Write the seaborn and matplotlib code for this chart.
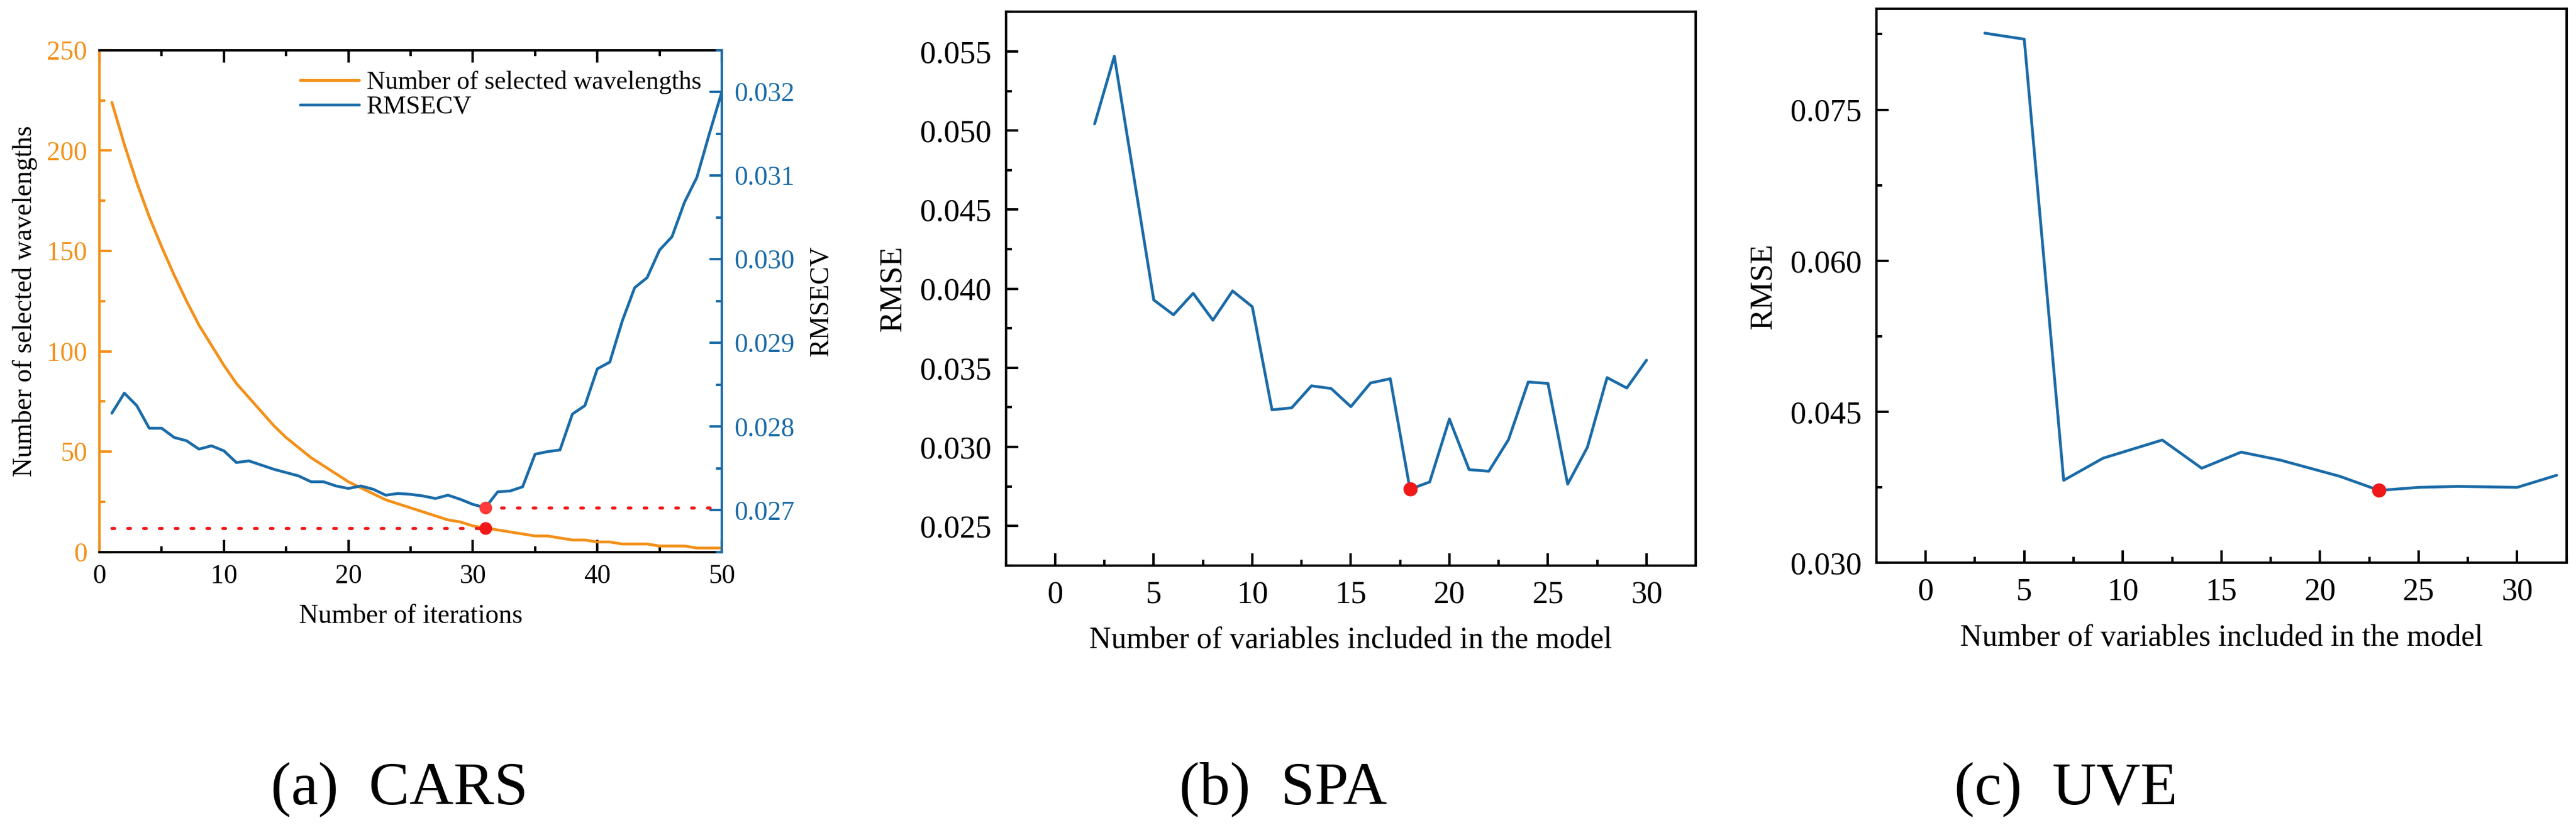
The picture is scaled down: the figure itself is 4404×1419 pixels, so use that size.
import numpy as np
import seaborn as sns
import matplotlib.pyplot as plt
from matplotlib.ticker import MultipleLocator, FormatStrFormatter

# ------------------------------
# Data
# ------------------------------

# (a) CARS
cars_iter = list(range(1, 51))
cars_nwave = [224, 203, 184, 167, 152, 138, 125, 113, 103, 93,
              84, 77, 70, 63, 57, 52, 47, 43, 39, 35,
              32, 29, 26, 24, 22, 20, 18, 16, 15, 13,
              12, 11, 10, 9, 8, 8, 7, 6, 6, 5,
              5, 4, 4, 4, 3, 3, 3, 2, 2, 2]
cars_rmsecv = [0.02816, 0.02840, 0.02825, 0.02798, 0.02798, 0.02787, 0.02783, 0.02773, 0.02777, 0.02771,
               0.02757, 0.02759, 0.02754, 0.02749, 0.02745, 0.02741, 0.02734, 0.02734, 0.02729, 0.02726,
               0.02729, 0.02725, 0.02718, 0.02720, 0.02719, 0.02717, 0.02714, 0.02718, 0.02713, 0.02707,
               0.02703, 0.02722, 0.02723, 0.02728, 0.02767, 0.02770, 0.02772, 0.02815, 0.02825, 0.02869,
               0.02877, 0.02926, 0.02966, 0.02978, 0.03011, 0.03027, 0.03068, 0.03098, 0.03150, 0.03200]

# (b) SPA
spa_nvar = list(range(2, 31))
spa_rmse = [0.05042, 0.05470, 0.04700, 0.03929, 0.03835, 0.03971, 0.03801, 0.03986, 0.03886,
            0.03234, 0.03247, 0.03386, 0.03369, 0.03254, 0.03404, 0.03431, 0.02732, 0.02778, 0.03176,
            0.02856, 0.02846, 0.03046, 0.03410, 0.03401, 0.02764, 0.02997, 0.03438, 0.03372, 0.03548]

# (c) UVE
uve_nvar = [3, 5, 7, 9, 12, 14, 16, 18, 21, 23, 25, 27, 30, 32]
uve_rmse = [0.0826, 0.0820, 0.0382, 0.0404, 0.0422, 0.0394, 0.0410, 0.0402,
            0.0386, 0.0372, 0.0375, 0.0376, 0.0375, 0.0387]

captions = ["(a)  CARS", "(b)  SPA", "(c)  UVE"]

ORANGE = "#F39019"
BLUE = "#1A6BA8"
RED = "#F01818"

sns.set_theme(style="ticks", rc={
    "axes.edgecolor": "black",
    "axes.linewidth": 1.0,
    "xtick.direction": "in",
    "ytick.direction": "in",
    "xtick.color": "black",
    "ytick.color": "black",
    "text.color": "black",
    "axes.labelcolor": "black",
})
plt.rcParams["font.family"] = ["Liberation Serif", "DejaVu Serif"]

fig = plt.figure(figsize=(14.68, 4.73), dpi=300)

# ------------------------------
# (a) CARS
# ------------------------------
ax_a = fig.add_axes([0.0386, 0.3349, 0.2416, 0.6047])
sns.lineplot(x=cars_iter, y=cars_nwave, ax=ax_a, color=ORANGE, lw=1.15,
             label="Number of selected wavelengths")
ax_a2 = ax_a.twinx()
sns.lineplot(x=cars_iter, y=cars_rmsecv, ax=ax_a2, color=BLUE, lw=1.15,
             label="RMSECV")

best = int(np.argmin(cars_rmsecv))
dots = dict(color=RED, lw=1.3, linestyle=(0, (0.8, 4.2)), dash_capstyle="round")
ax_a.plot([cars_iter[0], cars_iter[best]], [cars_nwave[best]] * 2, **dots)
ax_a2.plot([cars_iter[best], cars_iter[-1]], [cars_rmsecv[best]] * 2, **dots)
ax_a.plot(cars_iter[best], cars_nwave[best], "o", color=RED, ms=4.2, zorder=5)
ax_a2.plot(cars_iter[best], cars_rmsecv[best], "o", color="#FF3B3B", ms=4.2, zorder=5)

ax_a.set_xlim(0, 50)
ax_a.set_ylim(0, 250)
ax_a2.set_ylim(0.0265, 0.0325)
ax_a.xaxis.set_major_locator(MultipleLocator(10))
ax_a.xaxis.set_minor_locator(MultipleLocator(5))
ax_a.yaxis.set_major_locator(MultipleLocator(50))
ax_a.yaxis.set_minor_locator(MultipleLocator(25))
ax_a2.yaxis.set_major_locator(MultipleLocator(0.001))
ax_a2.yaxis.set_minor_locator(MultipleLocator(0.0005))
ax_a2.yaxis.set_major_formatter(FormatStrFormatter("%.3f"))

ax_a.tick_params(axis="x", which="both", top=True, labelsize=11, pad=5)
ax_a.tick_params(axis="x", which="major", length=5, width=1.0)
ax_a.tick_params(axis="x", which="minor", length=2.5, width=1.0)
ax_a.tick_params(axis="y", which="both", colors=ORANGE, labelsize=11, pad=5, width=1.0)
ax_a.tick_params(axis="y", which="major", length=5)
ax_a.tick_params(axis="y", which="minor", length=2.5)
ax_a2.tick_params(axis="y", which="both", colors=BLUE, labelsize=11, pad=5, width=1.0)
ax_a2.tick_params(axis="y", which="major", length=5)
ax_a2.tick_params(axis="y", which="minor", length=2.5)

ax_a.spines["left"].set_color(ORANGE)
ax_a.spines["right"].set_visible(False)
for s in ["left", "top", "bottom"]:
    ax_a2.spines[s].set_visible(False)
ax_a2.spines["right"].set_color(BLUE)

ax_a.set_xlabel("Number of iterations", fontsize=11, labelpad=6)
ax_a.set_ylabel("Number of selected wavelengths", fontsize=11, labelpad=4)
ax_a2.set_ylabel("RMSECV", fontsize=11, labelpad=6)

h1, l1 = ax_a.get_legend_handles_labels()
h2, l2 = ax_a2.get_legend_handles_labels()
ax_a.get_legend().remove()
ax_a2.legend(h1 + h2, l1 + l2, loc="upper right", frameon=False, fontsize=10.5,
             handlelength=2.3, handletextpad=0.3, labelspacing=0.05,
             borderaxespad=0.4)

# ------------------------------
# (b) SPA and (c) UVE
# ------------------------------
def rmse_panel(rect, xs, ys, ylim, ymaj, ymin):
    ax = fig.add_axes(rect)
    sns.lineplot(x=xs, y=ys, ax=ax, color=BLUE, lw=1.15)
    k = int(np.argmin(ys))
    ax.plot(xs[k], ys[k], "o", color=RED, ms=4.8, zorder=5)
    ax.set_xlim(-2.5, 32.5)
    ax.set_ylim(*ylim)
    ax.xaxis.set_major_locator(MultipleLocator(5))
    ax.xaxis.set_minor_locator(MultipleLocator(2.5))
    ax.yaxis.set_major_locator(MultipleLocator(ymaj))
    ax.yaxis.set_minor_locator(MultipleLocator(ymin))
    ax.yaxis.set_major_formatter(FormatStrFormatter("%.3f"))
    ax.tick_params(which="both", labelsize=13, pad=6, width=1.0)
    ax.tick_params(which="major", length=5)
    ax.tick_params(which="minor", length=2.5)
    ax.set_xlabel("Number of variables included in the model", fontsize=12.5, labelpad=7)
    ax.set_ylabel("RMSE", fontsize=13, labelpad=5)
    return ax

rmse_panel([0.3905, 0.3187, 0.2678, 0.6669], spa_nvar, spa_rmse,
           (0.0225, 0.0575), 0.005, 0.0025)
rmse_panel([0.7284, 0.3218, 0.2679, 0.6674], uve_nvar, uve_rmse,
           (0.030, 0.085), 0.015, 0.0075)

for xc, txt in zip([0.155, 0.498, 0.802], captions):
    fig.text(xc, 0.049, txt, ha="center", va="center", fontsize=25)

fig.savefig("out.png", dpi=300)
